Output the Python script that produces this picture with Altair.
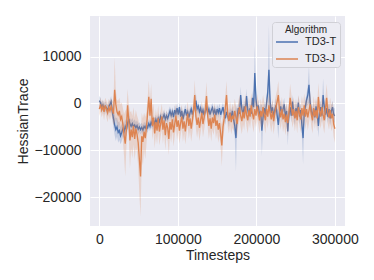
import altair as alt
import pandas as pd

# Timesteps (every 1500 steps)
steps = list(range(0, 300001, 1500))

# TD3-T mean Hessian trace (thousands)
t_mean = [
    0.6, 0.2, -0.8, -0.3, -1.2, -0.6, -0.9, -1.6, -0.7, -0.2, 0.4, -1.8, -3.2, -4.6, -5.6, -5.0, -6.2, -5.8, -6.9, -6.2,
    -5.4, -6.0, -4.9, -5.6, -4.2, -3.3, -4.4, -4.9, -4.3, -5.0, -4.6, -5.2, -4.7, -5.5, -5.0, -5.6, -5.1, -5.7, -4.9, -5.3,
    -4.6, -5.2, -4.3, -4.9, -4.0, -4.6, -3.6, -4.4, -3.4, -4.2, -3.2, -3.9, -2.8, -3.6, -3.0, -2.4, -3.4, -2.6, -3.2, -2.4,
    -1.6, -2.6, -1.8, -2.9, -1.4, -2.2, -1.0, -2.4, -0.8, -2.8, -1.6, -3.4, -2.2, -1.2, -2.6, -1.8, -3.0, -2.0, -1.2, -2.4,
    -1.4, -0.4, 0.6, -1.2, -0.6, -1.8, -1.0, -2.2, -1.4, -2.5, -1.6, -0.8, -2.0, -1.2, -2.4, -1.5, -0.9, -2.1, -1.4, -2.5,
    -1.2, -2.0, -1.0, -2.4, -1.6, -0.8, -2.2, -3.2, -1.8, -2.6, -3.6, -2.0, -2.8, -1.6, -3.4, -4.8, -7.4, -3.0, -1.0, -2.2,
    1.8, -1.2, -2.4, -0.6, -1.8, 1.6, -1.4, -2.6, -1.0, -2.2, 1.2, -0.8, 6.5, 1.0, -1.6, -0.4, -2.8, -1.6, -5.8, -3.0,
    -1.0, -2.4, 0.2, 2.4, 7.2, 0.4, -2.0, -0.8, -3.0, -1.4, -0.4, -2.6, -4.6, -1.8, -0.6, -2.4, -1.2, -0.2, -3.0, -1.6,
    -6.0, -2.4, -0.8, -2.6, 0.4, -1.8, -3.0, -1.0, -2.2, 0.2, -2.8, -1.4, -4.6, -7.4, -2.0, -0.6, 0.8, 1.8, 4.0, 0.2,
    -1.6, -2.8, -1.2, -3.0, -0.6, -2.2, -4.8, -1.8, -0.8, -2.6, 1.8, -0.6, -2.4, -1.0, -2.8, -1.2, -3.2, -1.6, -0.8, -2.4,
    -2.6]
# TD3-T confidence half-width (thousands)
t_spread = [
    1.0, 1.0, 1.0, 1.0, 1.2, 1.0, 1.0, 1.2, 1.0, 1.0, 1.2, 1.5, 2.0, 2.2, 2.4, 2.0, 2.2, 2.0, 1.8, 1.8,
    1.6, 1.5, 1.5, 1.4, 1.4, 1.5, 1.3, 1.3, 1.2, 1.2, 1.2, 1.2, 1.1, 1.2, 1.0, 1.1, 1.0, 1.1, 1.0, 1.0,
    1.0, 1.1, 1.0, 1.0, 1.1, 1.0, 1.0, 1.2, 1.0, 1.0, 1.1, 1.0, 1.0, 1.2, 1.0, 1.0, 1.1, 1.0, 1.0, 1.2,
    1.0, 1.1, 1.0, 1.2, 1.0, 1.0, 1.1, 1.0, 1.0, 1.2, 1.0, 1.3, 1.0, 1.0, 1.1, 1.0, 1.2, 1.0, 1.0, 1.1,
    1.0, 1.2, 1.6, 1.0, 1.0, 1.1, 1.0, 1.2, 1.0, 1.1, 1.0, 1.0, 1.2, 1.0, 1.1, 1.0, 1.0, 1.2, 1.0, 1.1,
    1.0, 1.1, 1.0, 1.2, 1.0, 1.0, 1.2, 1.4, 1.0, 1.2, 1.5, 1.0, 1.2, 1.0, 1.5, 2.5, 7.2, 1.5, 1.2, 1.2,
    1.8, 1.2, 1.4, 1.2, 1.2, 1.6, 1.2, 1.4, 1.2, 1.2, 1.5, 1.2, 6.0, 1.8, 1.4, 1.2, 1.5, 1.4, 5.5, 1.8,
    1.4, 1.4, 1.4, 2.0, 9.6, 1.8, 1.4, 1.4, 1.5, 1.4, 1.4, 1.5, 3.0, 1.4, 1.4, 1.5, 1.4, 1.4, 1.6, 1.4,
    3.0, 1.5, 1.4, 1.5, 1.4, 1.4, 1.6, 1.4, 1.4, 1.4, 1.6, 1.4, 2.5, 5.6, 1.5, 1.4, 1.4, 2.0, 4.0, 1.5,
    1.4, 1.5, 1.4, 1.5, 1.4, 1.4, 2.5, 1.4, 1.4, 1.5, 3.6, 1.4, 1.5, 1.4, 1.5, 1.4, 1.6, 1.4, 1.4, 1.5,
    1.5]

# TD3-J mean Hessian trace (thousands)
j_mean = [
    -1.2, -0.2, -1.4, -0.6, -1.8, -0.4, -1.2, -2.0, -0.8, -1.6, -0.6, -1.4, -2.2, 2.9, -0.2, -1.8, -2.4, -1.6, -3.4, -2.8,
    -4.5, -6.8, -8.6, -5.2, -0.4, -3.8, -7.9, -5.6, -7.2, -4.8, -7.6, -5.4, -6.6, -8.4, -12.0, -15.6, -7.0, -8.2, -6.0, -7.4,
    -5.2, -2.0, 1.4, -2.6, 1.0, -4.8, -3.0, -6.4, -4.0, -5.8, -3.2, -6.0, -4.4, -2.8, -5.6, -3.6, -6.8, -4.2, -5.2, -7.6,
    -4.0, -5.6, -3.4, -6.2, -4.4, -2.6, -5.0, -3.6, -5.8, -4.2, -2.8, -5.4, -3.8, -6.0, -4.0, -2.2, -4.8, -3.2, -5.4, -3.6,
    -1.6, 1.8, -2.8, -4.6, -3.0, -5.2, -3.6, -2.0, -4.4, -3.0, -1.4, 1.6, -2.6, -4.8, -3.2, -5.4, -3.0, -4.2, -2.4, -4.8,
    -3.6, -5.6, -4.2, -6.4, -9.0, -5.0, -3.2, -1.0, 1.8, -2.4, -3.8, -2.0, -4.0, -2.6, -3.4, -1.6, -3.0, -4.4, -2.2, -0.8,
    -2.6, -3.8, -1.8, -3.2, -0.6, -2.4, -3.6, -1.4, -2.8, -0.4, -2.2, -3.4, -1.2, -2.6, -0.6, -2.0, -3.6, -1.6, -2.8, -0.8,
    -2.4, -3.6, -1.2, -2.8, -0.4, -2.0, -3.4, -1.6, -3.8, -2.0, -0.8, 0.4, 1.8, -1.6, -3.0, -1.2, -3.4, -2.2, -4.0, -2.4,
    -4.2, -2.0, 1.2, -0.6, -2.6, -1.2, -3.2, -1.6, -3.6, -0.8, -2.2, -3.4, -1.0, -2.6, -0.4, -2.8, -1.2, -3.0, -1.6, -0.2,
    -2.4, -3.6, -1.0, -2.8, -1.4, -3.2, 1.4, -1.6, -2.8, -0.8, -2.4, -3.6, -1.2, 1.2, -1.8, -3.0, -1.4, -3.2, -2.2, -4.4,
    -5.4]
# TD3-J confidence half-width (thousands)
j_spread = [
    1.5, 1.5, 1.6, 1.5, 1.8, 1.6, 1.8, 2.0, 1.8, 2.0, 1.8, 2.0, 2.5, 7.0, 3.0, 2.5, 3.0, 2.8, 3.2, 3.0,
    3.5, 4.5, 7.0, 4.0, 3.5, 3.5, 6.0, 4.0, 4.5, 4.0, 4.5, 4.0, 4.0, 5.0, 7.5, 8.6, 5.0, 5.0, 4.0, 4.5,
    3.5, 3.0, 3.5, 3.0, 3.2, 3.0, 3.0, 3.2, 2.8, 3.0, 2.8, 3.0, 2.8, 2.8, 3.0, 2.6, 3.2, 2.8, 2.8, 3.4,
    2.8, 2.8, 2.6, 3.0, 2.6, 2.6, 2.8, 2.6, 2.8, 2.6, 2.6, 2.8, 2.6, 2.8, 2.6, 2.6, 2.8, 2.6, 2.8, 2.6,
    2.6, 3.2, 2.6, 2.8, 2.6, 2.8, 2.6, 2.6, 2.8, 2.6, 2.6, 3.0, 2.6, 2.8, 2.6, 2.8, 2.6, 2.6, 2.6, 2.8,
    2.6, 2.8, 2.6, 3.0, 4.5, 2.8, 2.6, 2.6, 3.0, 2.6, 2.6, 2.6, 2.6, 2.6, 2.6, 2.6, 2.6, 2.8, 2.6, 2.6,
    2.6, 2.8, 2.6, 2.6, 2.6, 2.6, 2.8, 2.6, 2.6, 2.6, 2.6, 2.8, 2.6, 2.6, 2.6, 2.6, 2.8, 2.6, 2.6, 2.6,
    2.6, 2.8, 2.6, 2.6, 2.6, 2.6, 2.8, 2.6, 2.8, 2.6, 2.6, 2.6, 3.0, 2.6, 2.6, 2.6, 2.8, 2.6, 2.8, 2.6,
    2.8, 2.6, 3.0, 2.6, 2.6, 2.6, 2.8, 2.6, 2.8, 2.6, 2.6, 2.8, 2.6, 2.6, 2.6, 2.8, 2.6, 2.8, 2.6, 2.6,
    2.6, 2.8, 2.6, 2.6, 2.6, 2.8, 3.0, 2.6, 2.6, 2.6, 2.6, 2.8, 2.6, 3.0, 2.6, 2.6, 2.6, 2.8, 2.6, 2.8,
    3.0]

algos = ["TD3-T", "TD3-J"]
colors = ["#4C72B0", "#DD8452"]

rows = []
for name, m, s in [("TD3-T", t_mean, t_spread), ("TD3-J", j_mean, j_spread)]:
    for st, mv, sv in zip(steps, m, s):
        rows.append({"step": st, "algo": name, "mean": mv * 1000,
                     "lo": (mv - sv) * 1000, "hi": (mv + sv) * 1000})
df = pd.DataFrame(rows)

xenc = alt.X("step:Q", scale=alt.Scale(domain=[-11900, 312900], nice=False, zero=False),
             axis=alt.Axis(values=[0, 100000, 200000, 300000], format="d", title="Timesteps",
                           labelPadding=6, titlePadding=2))
yscale = alt.Scale(domain=[-26200, 18700], nice=False, zero=False)
yaxis = alt.Axis(values=[-20000, -10000, 0, 10000], format="d", title="HessianTrace",
                 labelPadding=9, titlePadding=3)

base = alt.Chart(df)
layers = []
for name, col in zip(algos, colors):
    band = base.transform_filter(alt.datum.algo == name).mark_area(opacity=0.24, color=col).encode(
        x=xenc, y=alt.Y("lo:Q", scale=yscale, axis=yaxis), y2="hi:Q")
    line = base.transform_filter(alt.datum.algo == name).mark_line(strokeWidth=1.35).encode(
        x=xenc, y=alt.Y("mean:Q", scale=yscale, axis=yaxis),
        color=alt.Color("algo:N", scale=alt.Scale(domain=algos, range=colors),
                        legend=alt.Legend(title="Algorithm", orient="none", legendX=182, legendY=6,
                                          symbolType="stroke", symbolSize=484, symbolStrokeWidth=1.5,
                                          rowPadding=-6, titlePadding=-5)))
    layers += [band, line]

chart = alt.layer(*layers).properties(
    width=255, height=210,
    autosize=alt.AutoSizeParams(type="none"),
    padding={"left": 82, "top": 8, "right": 20, "bottom": 50},
    background="white",
).configure_view(fill="#EAEAF2", stroke=None).configure_axis(
    domain=False, ticks=False, grid=True, gridColor="white", gridWidth=1,
    labelFont="Liberation Sans", titleFont="Liberation Sans",
    labelFontSize=14, titleFontSize=14, labelColor="#262626", titleColor="#262626",
    titleFontWeight="normal",
).configure_legend(
    titleFont="Liberation Sans", labelFont="Liberation Sans",
    titleFontSize=10, titleFontWeight="normal", labelFontSize=11,
    titleColor="#262626", labelColor="#262626", titleAnchor="middle",
    fillColor="#ECECF3", strokeColor="#D0D0D6", cornerRadius=3, padding=3,
    labelOffset=6,
)

chart.save("out.html", embed_options={"renderer": "svg", "actions": False})
